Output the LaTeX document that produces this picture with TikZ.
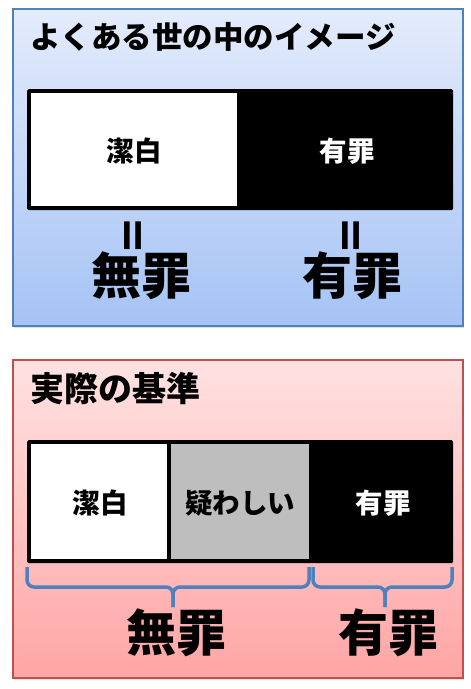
\documentclass[tikz,border=0pt]{standalone}
\usepackage{fontspec}
\setmainfont{Noto Sans CJK JP}
\usetikzlibrary{shadows}
\definecolor{bluetop}{RGB}{228,236,252}
\definecolor{bluebot}{RGB}{165,195,245}
\definecolor{blueline}{RGB}{79,129,189}
\definecolor{redtop}{RGB}{255,226,226}
\definecolor{redbot}{RGB}{255,165,165}
\definecolor{redline}{RGB}{192,80,77}
\definecolor{grayfill}{RGB}{190,190,190}
\definecolor{bracecol}{RGB}{79,129,189}
\tikzset{
  panel/.style={anchor=north west, inner sep=0pt, line width=1.5pt,
    drop shadow={shadow xshift=1pt, shadow yshift=-2pt, opacity=0.25}},
  barouter/.style={anchor=north west, inner sep=0pt, fill=black, rounded corners=1.5pt},
  barseg/.style={anchor=north west, inner sep=0pt},
  lbl/.style={font=\bfseries\fontsize{27.5}{30}\selectfont, inner sep=0pt},
  biglbl/.style={font=\bfseries\fontsize{50}{54}\selectfont, inner sep=0pt},
  ttl/.style={anchor=west, inner sep=0pt},
  eqv/.style={font=\bfseries\fontsize{36}{40}\selectfont, inner sep=0pt},
  bracepath/.style={draw=bracecol, line width=3.5pt, rounded corners=7pt}
}
\newcommand{\vequal}{\rotatebox{90}{\scalebox{1.1}[1.3]{＝}}}
\begin{document}
\begin{tikzpicture}[x=1pt,y=-1pt]
\useasboundingbox (0,0) rectangle (471,689);
% top panel
\node[panel, draw=blueline, top color=bluetop, bottom color=bluebot,
  minimum width=450pt, minimum height=317pt] (p1) at (12,8) {};
\node[ttl, font=\bfseries\fontsize{30.5}{32}\selectfont] (t1) at (30,37) {よくある世の中のイメージ};
\node[barouter, minimum width=426pt, minimum height=121pt] (bar1) at (27,89) {};
\node[barseg, fill=white, minimum width=206pt, minimum height=113pt] (w1) at (31,93) {};
\node[lbl] (l1a) at (134,151) {潔白};
\node[lbl, text=white] (l1b) at (347,151) {有罪};
\node[eqv] (e1) at (138,236) {\vequal};
\node[eqv] (e2) at (356,236) {\vequal};
\node[biglbl] (b1a) at (141,276) {無罪};
\node[biglbl] (b1b) at (352,276) {有罪};
% bottom panel
\node[panel, draw=redline, top color=redtop, bottom color=redbot,
  minimum width=450pt, minimum height=318pt] (p2) at (12,359) {};
\node[ttl, font=\bfseries\fontsize{34}{36}\selectfont] (t2) at (30,389) {実際の基準};
\node[barouter, minimum width=426pt, minimum height=123pt] (bar2) at (27,440) {};
\node[barseg, fill=white, minimum width=136pt, minimum height=115pt] (w2) at (31,444) {};
\node[barseg, fill=grayfill, minimum width=138pt, minimum height=115pt] (g2) at (171,444) {};
\node[lbl] (l2a) at (100,503) {潔白};
\node[lbl] (l2b) at (240,503) {疑わしい};
\node[lbl, text=white] (l2c) at (383,503) {有罪};
% braces
\coordinate (bLa) at (27,567);
\coordinate (bLb) at (309,567);
\coordinate (bLt) at (173,607);
\coordinate (bRa) at (313,567);
\coordinate (bRb) at (452,567);
\coordinate (bRt) at (385,607);
\draw[bracepath] (bLa) |- (bLt |- 0,587) -- (bLt);
\draw[bracepath] (bLb) |- (bLt |- 0,587) -- (bLt);
\draw[bracepath] (bRa) |- (bRt |- 0,587) -- (bRt);
\draw[bracepath] (bRb) |- (bRt |- 0,587) -- (bRt);
\node[biglbl] (b2a) at (176,633) {無罪};
\node[biglbl] (b2b) at (388,633) {有罪};
\end{tikzpicture}
\end{document}
